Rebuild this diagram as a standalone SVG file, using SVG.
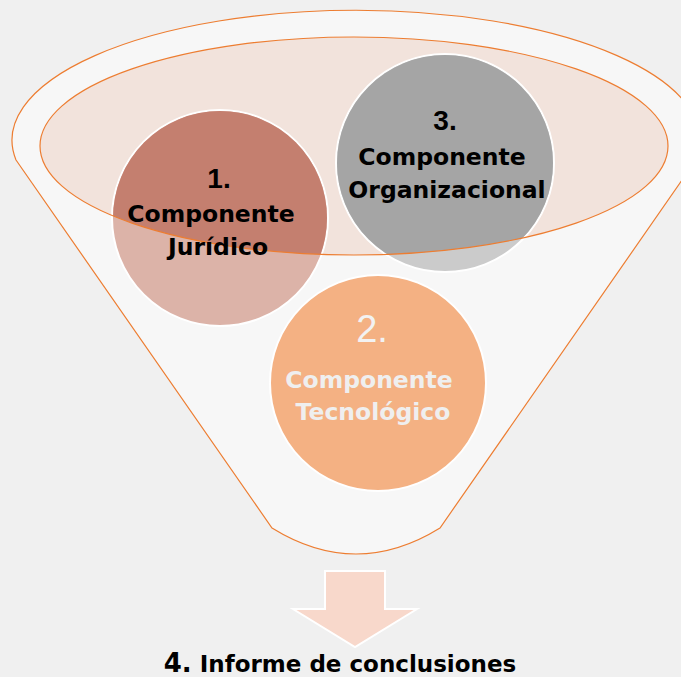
<svg xmlns="http://www.w3.org/2000/svg" width="681" height="677" viewBox="0 0 681 677">
<defs>
<style>
.lbl{font-family:"DejaVu Sans","Liberation Sans",sans-serif;font-weight:bold;font-size:23.5px;text-anchor:middle;fill:#000}
.num{font-family:"Liberation Sans",sans-serif;font-weight:bold;font-size:28px;text-anchor:middle;fill:#000}
.circ{stroke:#FFFFFF;stroke-width:2}
.edge{fill:none;stroke:#ED7D31;stroke-width:1.2}
</style>
<clipPath id="inner"><ellipse cx="354" cy="146" rx="314" ry="109"/></clipPath>
</defs>
<rect width="681" height="677" fill="#F0F0F0"/>
<g id="funnel">
<path d="M16,160 L272,528 Q356,580 440,528 L696,160 A344,130 0 1 0 16,160 Z" fill="#F7F7F7" stroke="#ED7D31" stroke-width="1.2"/>
<ellipse cx="354" cy="146" rx="314" ry="109" fill="#F2E3DC"/>
</g>
<g id="node1">
<circle class="circ" cx="220" cy="218" r="108" fill="#DCB3A8"/>
<circle cx="220" cy="218" r="107" fill="#C47F6F" clip-path="url(#inner)"/>
</g>
<g id="node3">
<circle class="circ" cx="445" cy="163" r="109" fill="#CBCBCB"/>
<circle cx="445" cy="163" r="108" fill="#A5A5A5" clip-path="url(#inner)"/>
</g>
<g id="rim">
<ellipse class="edge" cx="354" cy="146" rx="314" ry="109"/>
</g>
<g id="node2">
<circle class="circ" cx="378" cy="383" r="108" fill="#F4B183"/>
<text x="372" y="342" style="font-family:'Liberation Sans',sans-serif;font-size:38px;text-anchor:middle;fill:#F2F2F2">2.</text>
<text class="lbl" x="369" y="388" style="fill:#EFEFEF">Componente</text>
<text class="lbl" x="373" y="420" style="fill:#EFEFEF">Tecnológico</text>
</g>
<g id="labels1">
<text class="num" x="219" y="188">1.</text>
<text class="lbl" x="211" y="222">Componente</text>
<text class="lbl" x="218" y="255">Jurídico</text>
</g>
<g id="labels3">
<text class="num" x="445" y="130">3.</text>
<text class="lbl" x="442" y="165">Componente</text>
<text class="lbl" x="447" y="198">Organizacional</text>
</g>
<g id="connectors">
<path d="M325,571 L385,571 L385,609 L417,609 L355,647 L293,609 L325,609 Z" fill="#F8D8CB" stroke="#FFFFFF" stroke-width="2"/>
</g>
<g id="node4">
<text x="340" y="672" style="font-family:'DejaVu Sans','Liberation Sans',sans-serif;font-weight:bold;font-size:23px;text-anchor:middle;fill:#000"><tspan font-size="26px">4.</tspan> Informe de conclusiones</text>
</g>
</svg>
